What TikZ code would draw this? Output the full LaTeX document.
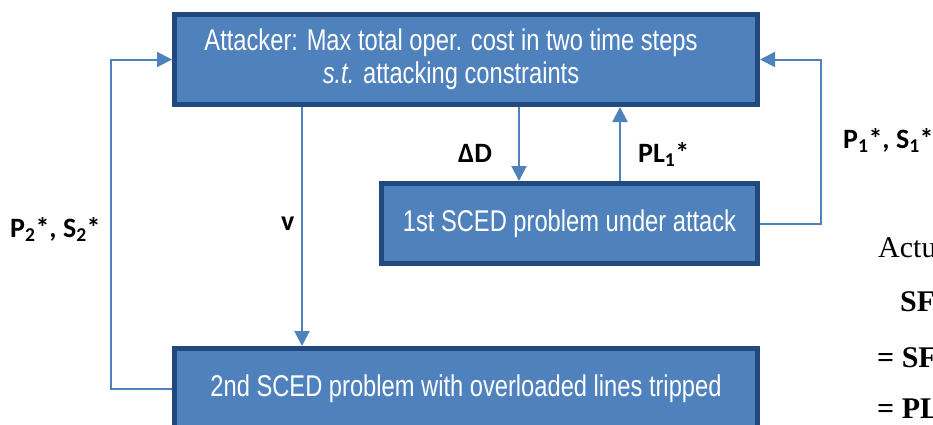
\documentclass[tikz,border=0pt]{standalone}
\usepackage{fontspec}
\setmainfont{Liberation Serif}
\newfontfamily\boxfont[FakeStretch=0.79]{Liberation Sans}
\newfontfamily\labfont{Carlito}
\usetikzlibrary{arrows.meta}

\definecolor{boxfill}{RGB}{79,129,189}
\definecolor{boxedge}{RGB}{33,73,125}
\definecolor{linkcol}{RGB}{79,129,189}

\tikzset{
  blockbox/.style={rectangle, draw=boxedge, fill=boxfill, line width=5pt,
    text=white, align=center, inner sep=0pt,
    font=\boxfont\fontsize{30}{33}\selectfont},
  boxtext/.style={text=white, align=center, inner sep=0pt,
    font=\boxfont\fontsize{30}{33}\selectfont},
  link/.style={draw=linkcol, line width=2pt,
    -{Triangle[length=15pt,width=15pt]}},
  lab/.style={font=\labfont\bfseries\fontsize{28}{32}\selectfont,
    anchor=base west, inner sep=0pt},
  sidetext/.style={font=\fontsize{30}{34}\selectfont,
    anchor=base west, inner sep=0pt}
}

\begin{document}
\begin{tikzpicture}[x=1pt,y=-1pt]
  \useasboundingbox (0,0) rectangle (933,424);
  \clip (0,0) rectangle (933,424);

  % blocks
  \node[blockbox, minimum width=583pt, minimum height=90pt] (top) at (466,59.5) {};
  \node[boxtext] (toptext) at (451,59.5)
    {Attacker: Max total oper. cost in two time steps\\{\itshape s.t.} attacking constraints};
  \node[blockbox, minimum width=376pt, minimum height=80pt] (mid) at (569.5,223.5)
    {1st SCED problem under attack};
  \node[blockbox, minimum width=583pt, minimum height=80pt] (bot) at (466,388.5)
    {2nd SCED problem with overloaded lines tripped};

  % x positions of the vertical connectors
  \coordinate (vx) at (302,0);
  \coordinate (dx) at (519,0);
  \coordinate (px) at (620,0);
  \coordinate (rx) at (821,0);
  \coordinate (lx) at (111,0);

  \draw[link] (top.south -| vx) -- (bot.north -| vx);
  \draw[link] (top.south -| dx) -- (mid.north -| dx);
  \draw[link] (mid.north -| px) -- (top.south -| px);
  \draw[link] (mid.east) -- (mid.east -| rx) -- (top.east -| rx) -- (top.east);
  \draw[link] (bot.west) -- (bot.west -| lx) -- (top.west -| lx) -- (top.west);

  % connector labels
  \node[lab] (lp2) at (10,237) {P\textsubscript{2}*, S\textsubscript{2}*};
  \node[lab] (lp1) at (843,148) {P\textsubscript{1}*, S\textsubscript{1}*};
  \node[lab] (ldd) at (458,162) {ΔD};
  \node[lab] (lpl) at (638,162) {PL\textsubscript{1}*};
  \node[lab] (lv) at (281,230) {v};

  % text running off the right edge
  \node[sidetext] (t1) at (878,257) {Actu};
  \node[sidetext] (t2) at (900,311) {\bfseries SF};
  \node[sidetext] (t3) at (877,367) {\bfseries = SF};
  \node[sidetext] (t4) at (877,418) {\bfseries = PL};
\end{tikzpicture}
\end{document}
